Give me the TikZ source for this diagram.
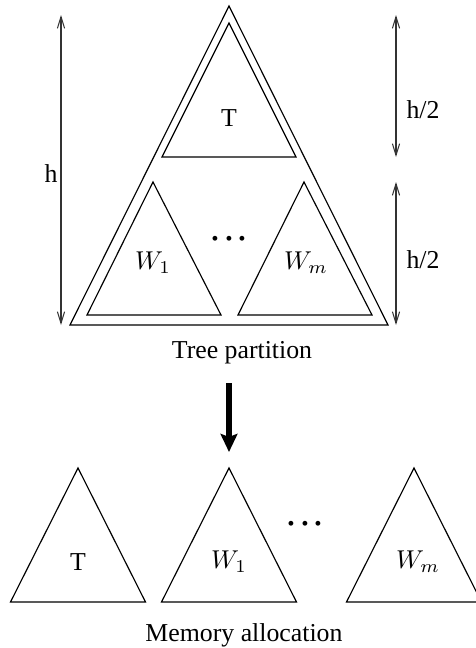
\documentclass[tikz,border=0pt]{standalone}
\usepackage{fontspec}
\setmainfont{Liberation Serif}
\usetikzlibrary{calc,arrows.meta}

\begin{document}
\begin{tikzpicture}[x=0.3876pt, y=-0.3876pt,
    tri/.style={draw, line width=0.45pt, line join=miter},
    dim/.style={draw=black!80, line width=0.4pt, {Straight Barb[length=4.5pt,width=2.8pt]}-{Straight Barb[length=4.5pt,width=2.8pt]}},
    bigarrow/.style={draw, line width=2pt, -{Stealth[length=7pt,width=6.5pt,inset=1.2pt]}},
    lbl/.style={inner sep=0pt},
    dots/.style={inner sep=0pt, font=\boldmath\fontsize{11.5}{12}\selectfont}]
    \useasboundingbox (0,0) rectangle (476,648);

    % tree partition
    \coordinate (Top) at (229, 6);
    \draw [tri] (Top) -- ++(-159, 319) -- ++(318, 0) -- cycle;
        \coordinate (TApex) at (229, 23);
        \draw [tri] (TApex) -- ++(-67, 134) -- ++(134, 0) -- cycle;
        \node [lbl] (T) at (229, 118) {T};
        \coordinate (W1Apex) at (153, 182);
        \draw [tri] (W1Apex) -- ++(-66, 133) -- ++(134, 0) -- cycle;
        \node [lbl] (W1) at (153, 263) {$W_1$};
        \coordinate (WmApex) at (304, 182);
        \draw [tri] (WmApex) -- ++(-66, 133) -- ++(134, 0) -- cycle;
        \node [lbl] (Wm) at (306, 263) {$W_m$};
        \node [dots] (D1) at (229, 239) {${\cdot}\mkern1.7mu{\cdot}\mkern1.7mu{\cdot}$};

    % heights
    \coordinate (hA) at (61, 15);
    \coordinate (hB) at (61, 325);
    \draw [dim] (hA) -- (hB);
    \node [lbl] (h) at (51, 174) {h};
    \coordinate (hA1) at (396, 15);
    \coordinate (hB1) at (396, 157);
    \draw [dim] (hA1) -- (hB1);
    \node [lbl, anchor=west] (h1) at (406, 110) {h/2};
    \coordinate (hA2) at (396, 182);
    \coordinate (hB2) at (396, 325);
    \draw [dim] (hA2) -- (hB2);
    \node [lbl, anchor=west] (h2) at (406, 260) {h/2};

    \node [lbl] (TP) at (242, 353) {Tree partition};

    % step
    \coordinate (ArS) at (229, 383);
    \coordinate (ArE) at (229, 452);
    \draw [bigarrow] (ArS) -- (ArE);

    % memory allocation
    \coordinate (MTApex) at (78, 468);
    \draw [tri] (MTApex) -- ++(-67.5, 134) -- ++(135, 0) -- cycle;
    \node [lbl] (MT) at (78, 562) {T};
    \coordinate (MW1Apex) at (229, 468);
    \draw [tri] (MW1Apex) -- ++(-67.5, 134) -- ++(135, 0) -- cycle;
    \node [lbl] (MW1) at (229, 562) {$W_1$};
    \coordinate (MWmApex) at (414, 468);
    \draw [tri] (MWmApex) -- ++(-67.5, 134) -- ++(135, 0) -- cycle;
    \node [lbl] (MWm) at (418, 562) {$W_m$};
    \node [dots] (D2) at (305, 524) {${\cdot}\mkern1.7mu{\cdot}\mkern1.7mu{\cdot}$};

    \node [lbl] (MA) at (244, 635) {Memory allocation};
\end{tikzpicture}
\end{document}
